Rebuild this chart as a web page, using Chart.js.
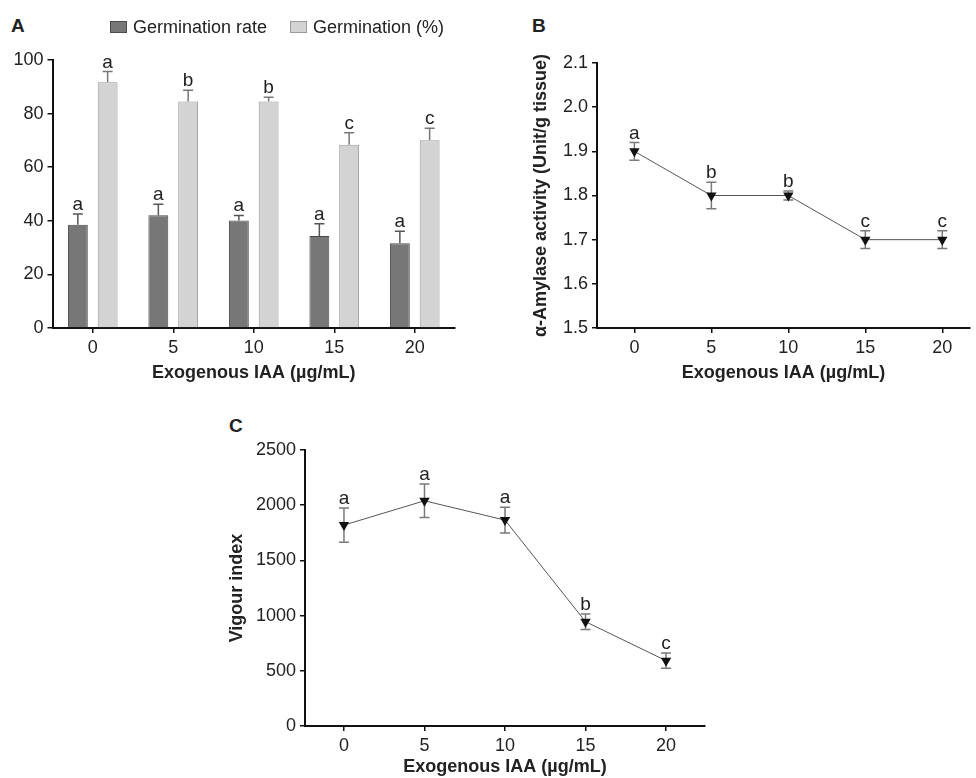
<!DOCTYPE html>
<html>
<head>
<meta charset="utf-8">
<script src="https://cdn.jsdelivr.net/npm/chart.js@4.4.1/dist/chart.umd.min.js"></script>
<style>
  body { margin: 0; background: #fff; width: 976px; height: 778px; position: relative; overflow: hidden; }
  canvas { position: absolute; }
  .tag { position: absolute; font: bold 19px 'Liberation Sans', sans-serif; line-height: 20px; color: #222; }
</style>
</head>
<body>
<div class="tag" style="left:11px;top:16px">A</div>
<div class="tag" style="left:532px;top:16px">B</div>
<div class="tag" style="left:229px;top:416px">C</div>
<canvas id="chartA" width="480" height="390" style="left:0;top:0"></canvas>
<canvas id="chartB" width="486" height="390" style="left:490px;top:0"></canvas>
<canvas id="chartC" width="540" height="378" style="left:200px;top:400px"></canvas>
<script>
// data
const iaa = [0, 5, 10, 15, 20];
const iaaLabels = ["0", "5", "10", "15", "20"];

const rate = [38.5, 42.1, 40.1, 34.3, 31.6];
const rateErr = [4.0, 4.1, 1.9, 4.6, 4.5];
const rateLetters = ["a", "a", "a", "a", "a"];
const germ = [91.7, 84.5, 84.5, 68.4, 70.1];
const germErr = [4.0, 4.2, 1.6, 4.5, 4.4];
const germLetters = ["a", "b", "b", "c", "c"];
const percentTicks = [0, 20, 40, 60, 80, 100];

const amylase = [1.90, 1.80, 1.80, 1.70, 1.70];
const amylaseErr = [0.02, 0.03, 0.01, 0.02, 0.02];
const amylaseLetters = ["a", "b", "b", "c", "c"];
const amylaseTicks = [1.5, 1.6, 1.7, 1.8, 1.9, 2.0, 2.1];

const vigour = [1820, 2040, 1865, 945, 592];
const vigourErr = [155, 152, 117, 70, 70];
const vigourLetters = ["a", "a", "a", "b", "c"];
const vigourTicks = [0, 500, 1000, 1500, 2000, 2500];

const REG = "'Liberation Sans', Arial, sans-serif";
const INK = "#222";

// error bars + significance letters, drawn from each dataset's own scale
const errorBars = {
  id: "errorBars",
  beforeDatasetsDraw(chart) {
    const ctx = chart.ctx;
    chart.data.datasets.forEach((ds, di) => {
      if (!ds.errors) return;
      const meta = chart.getDatasetMeta(di);
      const ys = chart.scales[meta.yAxisID];
      meta.data.forEach((el, i) => {
        const v = typeof ds.data[i] === "object" ? ds.data[i].y : ds.data[i];
        const top = ys.getPixelForValue(v + ds.errors[i]);
        const bot = ds.bothWays ? ys.getPixelForValue(v - ds.errors[i]) : el.y;
        ctx.save();
        ctx.strokeStyle = ds.errColor;
        ctx.lineWidth = 1.5;
        ctx.beginPath();
        ctx.moveTo(el.x, top); ctx.lineTo(el.x, bot);
        ctx.moveTo(el.x - 5, top); ctx.lineTo(el.x + 5, top);
        if (ds.bothWays) { ctx.moveTo(el.x - 5, bot); ctx.lineTo(el.x + 5, bot); }
        ctx.stroke();
        ctx.restore();
      });
    });
  },
  afterDatasetsDraw(chart) {
    const ctx = chart.ctx;
    chart.data.datasets.forEach((ds, di) => {
      if (!ds.letters) return;
      const meta = chart.getDatasetMeta(di);
      const ys = chart.scales[meta.yAxisID];
      meta.data.forEach((el, i) => {
        const v = typeof ds.data[i] === "object" ? ds.data[i].y : ds.data[i];
        const top = ys.getPixelForValue(v + ds.errors[i]);
        ctx.save();
        ctx.font = "19px " + REG;
        ctx.fillStyle = INK;
        ctx.textAlign = "center";
        ctx.textBaseline = "alphabetic";
        ctx.fillText(ds.letters[i], el.x, top - 4);
        ctx.restore();
      });
    });
  }
};

// legend for panel A
const boxLegend = {
  id: "boxLegend",
  afterDraw(chart, args, opts) {
    if (!opts.xs) return;
    const ctx = chart.ctx;
    chart.data.datasets.forEach((ds, i) => {
      const x = opts.xs[i];
      ctx.save();
      ctx.fillStyle = ds.backgroundColor;
      ctx.strokeStyle = ds.borderColor;
      ctx.lineWidth = 1;
      ctx.fillRect(x, opts.y - 6, 17, 12);
      ctx.strokeRect(x + 0.5, opts.y - 5.5, 16, 11);
      ctx.font = "18px " + REG;
      ctx.fillStyle = INK;
      ctx.textBaseline = "middle";
      ctx.fillText(ds.label, x + 23, opts.y + 1);
      ctx.restore();
    });
  }
};

function yAxis(ticks, width, title, titlePad) {
  return {
    min: ticks[0], max: ticks[ticks.length - 1],
    afterBuildTicks: s => { s.ticks = ticks.map(v => ({ value: v })); },
    afterFit: s => { s.width = width; },
    border: { color: "#111", width: 2 },
    grid: { drawOnChartArea: false, drawTicks: true, tickLength: 5, color: "#111", lineWidth: 1.5 },
    ticks: { font: { family: REG, size: 18 }, color: INK, padding: 4,
             callback: v => ticks[ticks.length - 1] < 10 ? v.toFixed(1) : String(v) },
    title: { display: !!title, text: title, color: INK, font: { family: REG, size: 18, weight: "bold" },
             padding: { top: titlePad, bottom: 0 } }
  };
}

function xTitle(pad) {
  return { display: true, text: "Exogenous IAA (µg/mL)", color: INK,
           font: { family: REG, size: 18, weight: "bold" }, padding: { top: 0, bottom: pad } };
}

const xBase = {
  border: { color: "#111", width: 2 },
  grid: { drawOnChartArea: false, drawTicks: true, tickLength: 5, color: "#111", lineWidth: 1.5, offset: false },
  ticks: { font: { family: REG, size: 18 }, color: INK, padding: 4, maxRotation: 0 }
};

const common = {
  responsive: false,
  animation: false,
  plugins: { legend: { display: false }, tooltip: { enabled: false } }
};

// Panel A: grouped bars
new Chart(document.getElementById("chartA"), {
  type: "bar",
  data: {
    labels: iaaLabels,
    datasets: [
      { label: "Germination rate", data: rate, errors: rateErr, letters: rateLetters,
        backgroundColor: "#777777", borderColor: "#4a4a4a", borderWidth: 1, errColor: "#555",
        categoryPercentage: 0.74, barPercentage: 0.667 },
      { label: "Germination (%)", data: germ, errors: germErr, letters: germLetters,
        backgroundColor: "#d3d3d3", borderColor: "#9a9a9a", borderWidth: 1, errColor: "#777",
        categoryPercentage: 0.74, barPercentage: 0.667 }
    ]
  },
  options: Object.assign({}, common, {
    layout: { padding: { top: 60, right: 25, left: 0, bottom: 0 } },
    plugins: { legend: { display: false }, tooltip: { enabled: false }, boxLegend: { xs: [110, 290], y: 27 } },
    scales: {
      x: Object.assign({}, xBase, { afterFit: s => { s.height = 62; }, title: xTitle(6) }),
      y: yAxis(percentTicks, 52.5, "", 0)
    }
  }),
  plugins: [errorBars, boxLegend]
});

function lineChart(id, values, errs, letters, ticks, xmin, xmax, yw, xh, pad, ytitle, ytPad, xtPad) {
  return new Chart(document.getElementById(id), {
    type: "line",
    data: {
      datasets: [{
        data: iaa.map((x, i) => ({ x: x, y: values[i] })),
        errors: errs, letters: letters, bothWays: true, errColor: "#7a7a7a",
        borderColor: "#555", borderWidth: 1, tension: 0,
        pointStyle: "triangle", rotation: 180, pointRadius: 6,
        pointBackgroundColor: "#111", pointBorderWidth: 0
      }]
    },
    options: Object.assign({}, common, {
      layout: { padding: pad },
      scales: {
        x: Object.assign({}, xBase, {
          type: "linear", min: xmin, max: xmax,
          afterBuildTicks: s => { s.ticks = iaa.map(v => ({ value: v })); },
          afterFit: s => { s.height = xh; }, title: xTitle(xtPad)
        }),
        y: yAxis(ticks, yw, ytitle, ytPad)
      }
    }),
    plugins: [errorBars]
  });
}

// Panel B
lineChart("chartB", amylase, amylaseErr, amylaseLetters, amylaseTicks, -2.43, 21.8,
  107, 62, { top: 63, right: 0, left: 0, bottom: 0 }, "α-Amylase activity (Unit/g tissue)", 40, 6);

// Panel C
lineChart("chartC", vigour, vigourErr, vigourLetters, vigourTicks, -2.42, 22.42,
  105, 52, { top: 50, right: 35, left: 0, bottom: 0 }, "Vigour index", 26, 0);
</script>
</body>
</html>
